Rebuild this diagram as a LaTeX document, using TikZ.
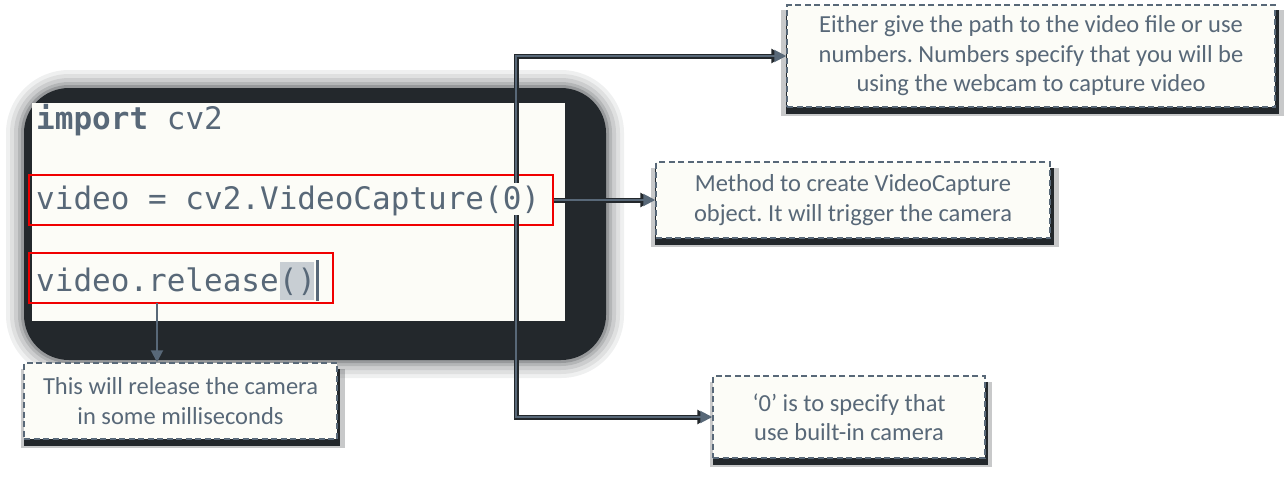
\documentclass[tikz,border=0pt]{standalone}
\usepackage{fontspec}
\setmainfont{Carlito}
\newfontfamily\codefont{DejaVu Sans Mono}
\usetikzlibrary{arrows.meta,calc,shadows}
\definecolor{slate}{RGB}{88,104,120}
\definecolor{darksh}{RGB}{35,40,44}
\definecolor{paper}{RGB}{252,252,247}
\definecolor{redline}{RGB}{240,0,0}
\definecolor{selgray}{RGB}{200,206,211}
\frenchspacing
\begin{document}
\begin{tikzpicture}[x=1pt,y=-1pt,
  codetext/.style={anchor=base west,inner sep=0pt,text=slate,font=\codefont\fontsize{31}{36}\selectfont},
  redframe/.style={draw=redline,line width=2pt,inner sep=0pt},
  callout/.style={draw=slate,line width=1.5pt,dash pattern=on 6pt off 3.5pt,fill=paper,
    align=center,text=slate,inner sep=0pt,font=\fontsize{24.5}{29.5}\selectfont,
    general shadow={fill=darksh,opacity=0.25,shadow scale=1.035,shadow xshift=2pt,shadow yshift=-7pt},
    general shadow={fill=darksh,shadow scale=1.012,shadow xshift=1.5pt,shadow yshift=-6pt}},
  conn/.style={draw=slate,line width=2pt,-{Triangle[length=12pt,width=12pt]}},
  connsh/.style={draw=darksh,line width=5pt,-{Triangle[length=12pt,width=14pt]}}
]
\useasboundingbox (0,0) rectangle (1284,477);
% halo and dark shadow behind the code panel
\foreach \d/\o/\r in {18/0.07/63,14/0.08/59,10/0.1/55,6/0.14/51,3/0.2/48}{
  \fill[darksh,opacity=\o,rounded corners=\r pt] (24-\d,88-\d) rectangle (606+\d,360+\d);
}
\fill[darksh,rounded corners=45pt] (24,88) rectangle (606,360);
% white code panel
\node[fill=paper,inner sep=0pt,minimum width=533pt,minimum height=218pt] (panel) at (298.5,212) {};
% selection and cursor
\fill[selgray] (280,262) rectangle (314,300);
\draw[slate,line width=3pt] (317,260) -- (317,301);
% code lines
\node[codetext] (l1) at (36,129) {\bfseries import\mdseries{} cv2};
\node[codetext] (l2) at (36,209) {video = cv2.VideoCapture(0)};
\node[codetext] (l3) at (36,291) {video.release()};
% red frames
\node[redframe,minimum width=524pt,minimum height=50pt] (rb1) at (291,200) {};
\node[redframe,minimum width=304pt,minimum height=50pt] (rb2) at (181,278) {};
% callouts
\node[callout,minimum width=488pt,minimum height=102pt] (b1) at (1031,56)
  {Either give the path to the video file or use\\ numbers. Numbers specify that you will be\\ using the webcam to capture video};
\node[callout,minimum width=394pt,minimum height=76pt] (b2) at (853,200)
  {Method to create VideoCapture\\ object. It will trigger the camera};
\node[callout,minimum width=313pt,minimum height=76pt] (b3) at (180.5,401)
  {This will release the camera\\ in some milliseconds};
\node[callout,minimum width=272pt,minimum height=82pt] (b4) at (849,417)
  {‘0’ is to specify that\\ use built-in camera};
% connector anchors
\coordinate (zt) at (516,183);
\coordinate (zb) at (516,215);
\coordinate (rl) at (157,303);
% connector shadows
\begin{scope}[shift={(3,5)}]
  \draw[connsh] (zt) |- ($(b1.west)+(-3,0)$);
  \draw[connsh] (rb1.east) -- ($(b2.west)+(-3,0)$);
  \draw[connsh] (zb) |- ($(b4.west)+(-3,0)$);
\end{scope}
% connectors
\draw[conn] (zt) |- (b1.west);
\draw[conn] (rb1.east) -- (b2.west);
\draw[conn] (zb) |- (b4.west);
\draw[conn] (rl) -- (rl |- b3.north);
\end{tikzpicture}
\end{document}
